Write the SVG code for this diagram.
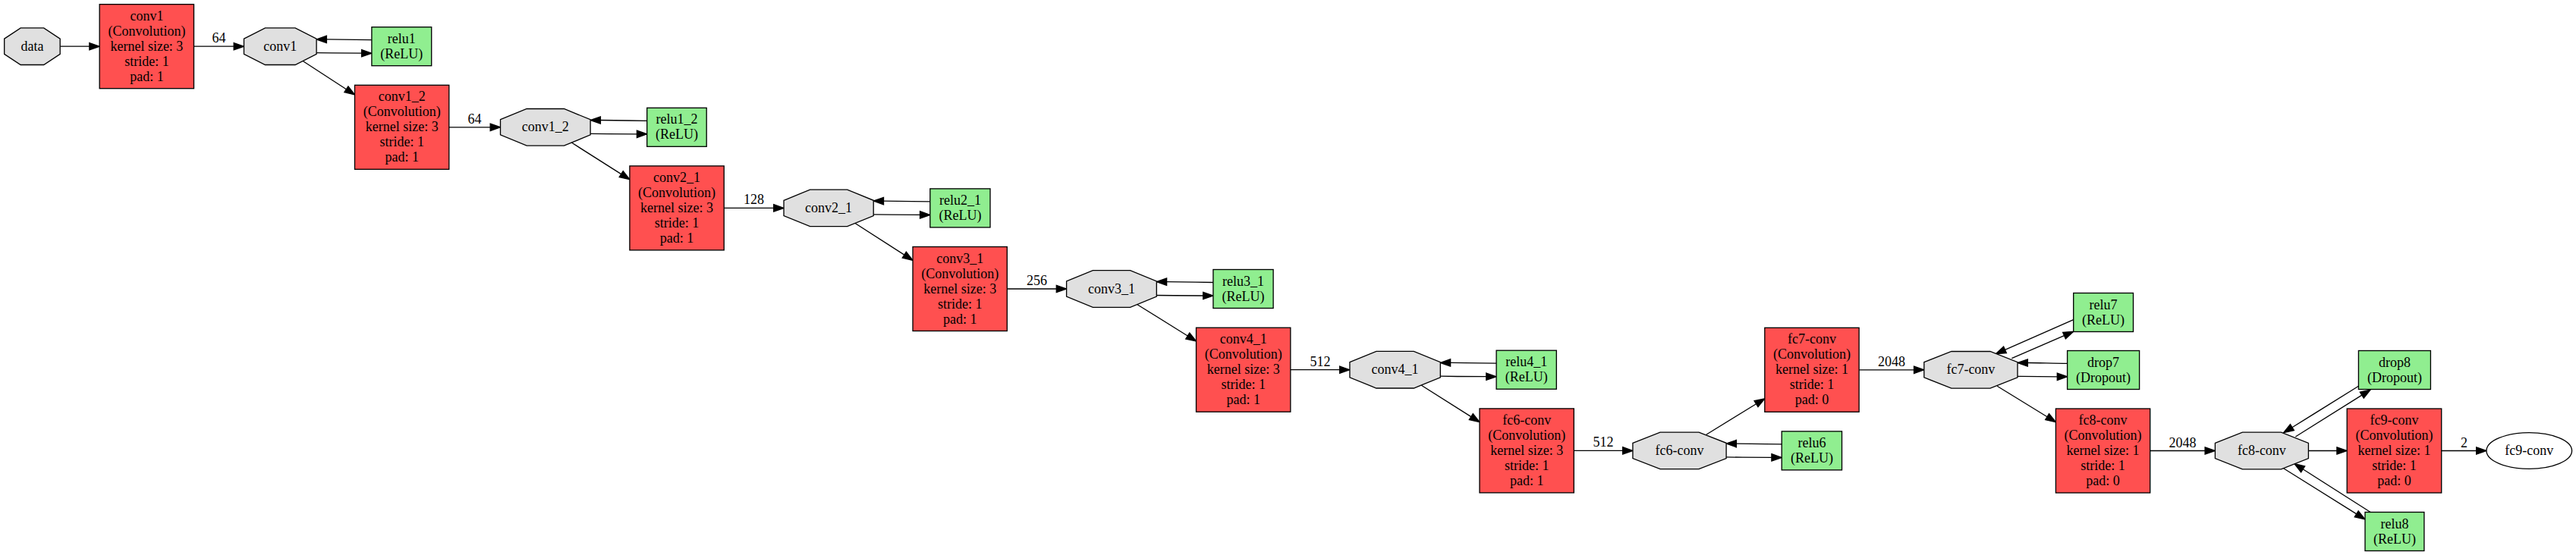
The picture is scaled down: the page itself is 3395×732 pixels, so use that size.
<svg xmlns="http://www.w3.org/2000/svg" width="3395" height="732" viewBox="0 0 3395 732">
<defs>
<marker id="ah" markerUnits="userSpaceOnUse" markerWidth="15" markerHeight="11" refX="0" refY="4.67" orient="auto" overflow="visible">
<path d="M0,0 L13.3,4.67 L0,9.33 z" fill="#000" stroke="#000" stroke-width="1.33"/>
</marker>
</defs>
<style>
text{font-family:"Liberation Serif","Times New Roman",serif;font-size:18px;fill:#000;text-anchor:middle}
.conv{fill:#ff5050;stroke:#000;stroke-width:1.33}
.act{fill:#90ee90;stroke:#000;stroke-width:1.33}
.blob{fill:#e0e0e0;stroke:#000;stroke-width:1.33}
.out{fill:#fff;stroke:#000;stroke-width:1.33}
#edges path{fill:none;stroke:#000;stroke-width:1.33;marker-end:url(#ah)}
</style>
<rect width="3395" height="732" fill="#fff"/>

<g id="edges">
<path d="M79.2,61.2 L117.9,61.2"/>
<path d="M255.5,61.2 L308.2,61.2"/>
<path d="M489.9,52.7 C469.9,52.5 442.1,51.9 430.4,51.9"/>
<path d="M417.1,69.7 C437.1,70 464.9,70.2 476.6,70.2"/>
<path d="M399.2,80.5 L456.4,117.7"/>
<path d="M591.8,167.8 L646.2,167.8"/>
<path d="M852.7,159.3 C832.7,159.1 803.1,158.5 791.4,158.5"/>
<path d="M778.1,176.3 C798.1,176.6 827.7,176.8 839.4,176.8"/>
<path d="M752.1,187.3 L818.7,229.6"/>
<path d="M954.2,274.4 L1019.7,274.4"/>
<path d="M1225.8,265.9 C1205.8,265.7 1176.2,265.1 1164.5,265.1"/>
<path d="M1151.2,282.9 C1171.2,283.2 1200.8,283.4 1212.5,283.4"/>
<path d="M1126.3,294 L1191.8,336.1"/>
<path d="M1327.3,381 L1392.3,381"/>
<path d="M1598.9,372.5 C1578.9,372.3 1549.3,371.7 1537.6,371.7"/>
<path d="M1524.3,389.5 C1544.3,389.8 1573.9,390 1585.6,390"/>
<path d="M1499,401.7 L1565.2,443"/>
<path d="M1700.8,487.7 L1765.6,487.7"/>
<path d="M1972.1,479.2 C1952.1,479 1923.3,478.4 1911.6,478.4"/>
<path d="M1898.3,496.2 C1918.3,496.5 1947.1,496.7 1958.8,496.7"/>
<path d="M1873.4,508.3 L1938.8,549.6"/>
<path d="M2074.3,594.4 L2138.6,594.4"/>
<path d="M2348.2,585.9 C2328.2,585.7 2300.1,585.1 2288.4,585.1"/>
<path d="M2275.1,602.9 C2295.1,603.2 2323.2,603.4 2334.9,603.4"/>
<path d="M2248.7,573.3 L2314.5,532.7"/>
<path d="M2450.1,487.8 L2522.5,487.8"/>
<path d="M2732.7,421.7 L2642.5,461.4"/>
<path d="M2651.3,472.7 L2720.5,442.6"/>
<path d="M2724.6,479.3 C2704.6,479.1 2684,478.5 2672.3,478.5"/>
<path d="M2659,496.3 C2679,496.6 2699.6,496.8 2711.3,496.8"/>
<path d="M2632.2,509.3 L2698.1,549.7"/>
<path d="M2833.7,594.5 L2906.1,594.5"/>
<path d="M3108.4,509.3 L3020.9,563.7"/>
<path d="M3025.3,576 L3112.8,521.1"/>
<path d="M3009.6,617.7 L3105.7,677.9"/>
<path d="M3124.1,675.5 L3035.1,618.8"/>
<path d="M3042.4,594.5 L3079.9,594.5"/>
<path d="M3217.7,594.5 L3263.7,594.5"/>
<text x="288.4" y="56.2">64</text>
<text x="625.5" y="162.8">64</text>
<text x="993.5" y="269.4">128</text>
<text x="1366.6" y="376">256</text>
<text x="1740" y="482.7">512</text>
<text x="2113.1" y="589.4">512</text>
<text x="2493.1" y="482.8">2048</text>
<text x="2876.6" y="589.5">2048</text>
<text x="3247.4" y="589.5">2</text>
</g>

<g id="data"><polygon class="blob" points="5.7,51.1 27.2,36.9 57.7,36.9 79.2,51.1 79.2,71.3 57.7,85.5 27.2,85.5 5.7,71.3"/><text x="42.5" y="66.8">data</text></g>

<g id="conv1_layer"><rect class="conv" x="131.2" y="5.7" width="124.3" height="111"/>
<text x="193.4" y="26.8">conv1</text><text x="193.4" y="46.8">(Convolution)</text><text x="193.4" y="66.8">kernel size: 3</text><text x="193.4" y="86.8">stride: 1</text><text x="193.4" y="106.8">pad: 1</text></g>
<g id="conv1_blob"><polygon class="blob" points="321.5,51.1 349.5,36.9 389.1,36.9 417.1,51.1 417.1,71.3 389.1,85.5 349.5,85.5 321.5,71.3"/><text x="369.3" y="66.8">conv1</text></g>
<g id="relu1"><rect class="act" x="489.9" y="35.7" width="78.8" height="51"/><text x="529.3" y="56.8">relu1</text><text x="529.3" y="76.8">(ReLU)</text></g>

<g id="conv1_2_layer"><rect class="conv" x="467.5" y="112.3" width="124.3" height="111"/>
<text x="529.7" y="133.4">conv1_2</text><text x="529.7" y="153.4">(Convolution)</text><text x="529.7" y="173.4">kernel size: 3</text><text x="529.7" y="193.4">stride: 1</text><text x="529.7" y="213.4">pad: 1</text></g>
<g id="conv1_2_blob"><polygon class="blob" points="659.5,157.7 694.2,143.5 743.4,143.5 778.1,157.7 778.1,177.9 743.4,192.1 694.2,192.1 659.5,177.9"/><text x="718.8" y="173.4">conv1_2</text></g>
<g id="relu1_2"><rect class="act" x="852.7" y="142.3" width="78.5" height="51"/><text x="892" y="163.4">relu1_2</text><text x="892" y="183.4">(ReLU)</text></g>

<g id="conv2_1_layer"><rect class="conv" x="829.9" y="218.9" width="124.3" height="111"/>
<text x="892.1" y="240">conv2_1</text><text x="892.1" y="260">(Convolution)</text><text x="892.1" y="280">kernel size: 3</text><text x="892.1" y="300">stride: 1</text><text x="892.1" y="320">pad: 1</text></g>
<g id="conv2_1_blob"><polygon class="blob" points="1033,264.3 1067.6,250.1 1116.6,250.1 1151.2,264.3 1151.2,284.5 1116.6,298.7 1067.6,298.7 1033,284.5"/><text x="1092.1" y="280">conv2_1</text></g>
<g id="relu2_1"><rect class="act" x="1225.8" y="248.9" width="79.2" height="51"/><text x="1265.4" y="270">relu2_1</text><text x="1265.4" y="290">(ReLU)</text></g>

<g id="conv3_1_layer"><rect class="conv" x="1203" y="325.5" width="124.3" height="111"/>
<text x="1265.2" y="346.6">conv3_1</text><text x="1265.2" y="366.6">(Convolution)</text><text x="1265.2" y="386.6">kernel size: 3</text><text x="1265.2" y="406.6">stride: 1</text><text x="1265.2" y="426.6">pad: 1</text></g>
<g id="conv3_1_blob"><polygon class="blob" points="1405.6,370.9 1440.4,356.7 1489.5,356.7 1524.3,370.9 1524.3,391.1 1489.5,405.3 1440.4,405.3 1405.6,391.1"/><text x="1465" y="386.6">conv3_1</text></g>
<g id="relu3_1"><rect class="act" x="1598.9" y="355.5" width="79.2" height="51"/><text x="1638.5" y="376.6">relu3_1</text><text x="1638.5" y="396.6">(ReLU)</text></g>

<g id="conv4_1_layer"><rect class="conv" x="1576.5" y="432.2" width="124.3" height="111"/>
<text x="1638.7" y="453.3">conv4_1</text><text x="1638.7" y="473.3">(Convolution)</text><text x="1638.7" y="493.3">kernel size: 3</text><text x="1638.7" y="513.3">stride: 1</text><text x="1638.7" y="533.3">pad: 1</text></g>
<g id="conv4_1_blob"><polygon class="blob" points="1778.9,477.6 1813.9,463.4 1863.3,463.4 1898.3,477.6 1898.3,497.8 1863.3,512 1813.9,512 1778.9,497.8"/><text x="1838.6" y="493.3">conv4_1</text></g>
<g id="relu4_1"><rect class="act" x="1972.1" y="462.2" width="79.2" height="51"/><text x="2011.7" y="483.3">relu4_1</text><text x="2011.7" y="503.3">(ReLU)</text></g>

<g id="fc6-conv_layer"><rect class="conv" x="1950" y="538.9" width="124.3" height="111"/>
<text x="2012.2" y="560">fc6-conv</text><text x="2012.2" y="580">(Convolution)</text><text x="2012.2" y="600">kernel size: 3</text><text x="2012.2" y="620">stride: 1</text><text x="2012.2" y="640">pad: 1</text></g>
<g id="fc6-conv_blob"><polygon class="blob" points="2151.9,584.3 2188,570.1 2239,570.1 2275.1,584.3 2275.1,604.5 2239,618.7 2188,618.7 2151.9,604.5"/><text x="2213.5" y="600">fc6-conv</text></g>
<g id="relu6"><rect class="act" x="2348.2" y="568.9" width="79.3" height="51"/><text x="2387.9" y="590">relu6</text><text x="2387.9" y="610">(ReLU)</text></g>

<g id="fc7-conv_layer"><rect class="conv" x="2325.8" y="432.3" width="124.3" height="111"/>
<text x="2388" y="453.4">fc7-conv</text><text x="2388" y="473.4">(Convolution)</text><text x="2388" y="493.4">kernel size: 1</text><text x="2388" y="513.4">stride: 1</text><text x="2388" y="533.4">pad: 0</text></g>
<g id="fc7-conv_blob"><polygon class="blob" points="2535.8,477.7 2571.9,463.5 2622.9,463.5 2659,477.7 2659,497.9 2622.9,512.1 2571.9,512.1 2535.8,497.9"/><text x="2597.4" y="493.4">fc7-conv</text></g>
<g id="relu7"><rect class="act" x="2732.7" y="386.5" width="78.8" height="51"/><text x="2772.1" y="407.6">relu7</text><text x="2772.1" y="427.6">(ReLU)</text></g>
<g id="drop7"><rect class="act" x="2724.6" y="462.5" width="95" height="51"/><text x="2772.1" y="483.6">drop7</text><text x="2772.1" y="503.6">(Dropout)</text></g>

<g id="fc8-conv_layer"><rect class="conv" x="2709.4" y="539" width="124.3" height="111"/>
<text x="2771.6" y="560.1">fc8-conv</text><text x="2771.6" y="580.1">(Convolution)</text><text x="2771.6" y="600.1">kernel size: 1</text><text x="2771.6" y="620.1">stride: 1</text><text x="2771.6" y="640.1">pad: 0</text></g>
<g id="fc8-conv_blob"><polygon class="blob" points="2919.4,584.4 2955.4,570.2 3006.4,570.2 3042.4,584.4 3042.4,604.6 3006.4,618.8 2955.4,618.8 2919.4,604.6"/><text x="2980.9" y="600.1">fc8-conv</text></g>
<g id="drop8"><rect class="act" x="3108.4" y="462.5" width="95" height="51"/><text x="3155.9" y="483.6">drop8</text><text x="3155.9" y="503.6">(Dropout)</text></g>
<g id="relu8"><rect class="act" x="3117" y="675.5" width="77.9" height="51"/><text x="3156" y="696.6">relu8</text><text x="3156" y="716.6">(ReLU)</text></g>

<g id="fc9-conv_layer"><rect class="conv" x="3093.2" y="539" width="124.5" height="111"/>
<text x="3155.5" y="560.1">fc9-conv</text><text x="3155.5" y="580.1">(Convolution)</text><text x="3155.5" y="600.1">kernel size: 1</text><text x="3155.5" y="620.1">stride: 1</text><text x="3155.5" y="640.1">pad: 0</text></g>
<g id="fc9-conv_blob"><ellipse class="out" cx="3333.3" cy="594.5" rx="56.3" ry="23.8"/><text x="3333.3" y="600.1">fc9-conv</text></g>
</svg>
